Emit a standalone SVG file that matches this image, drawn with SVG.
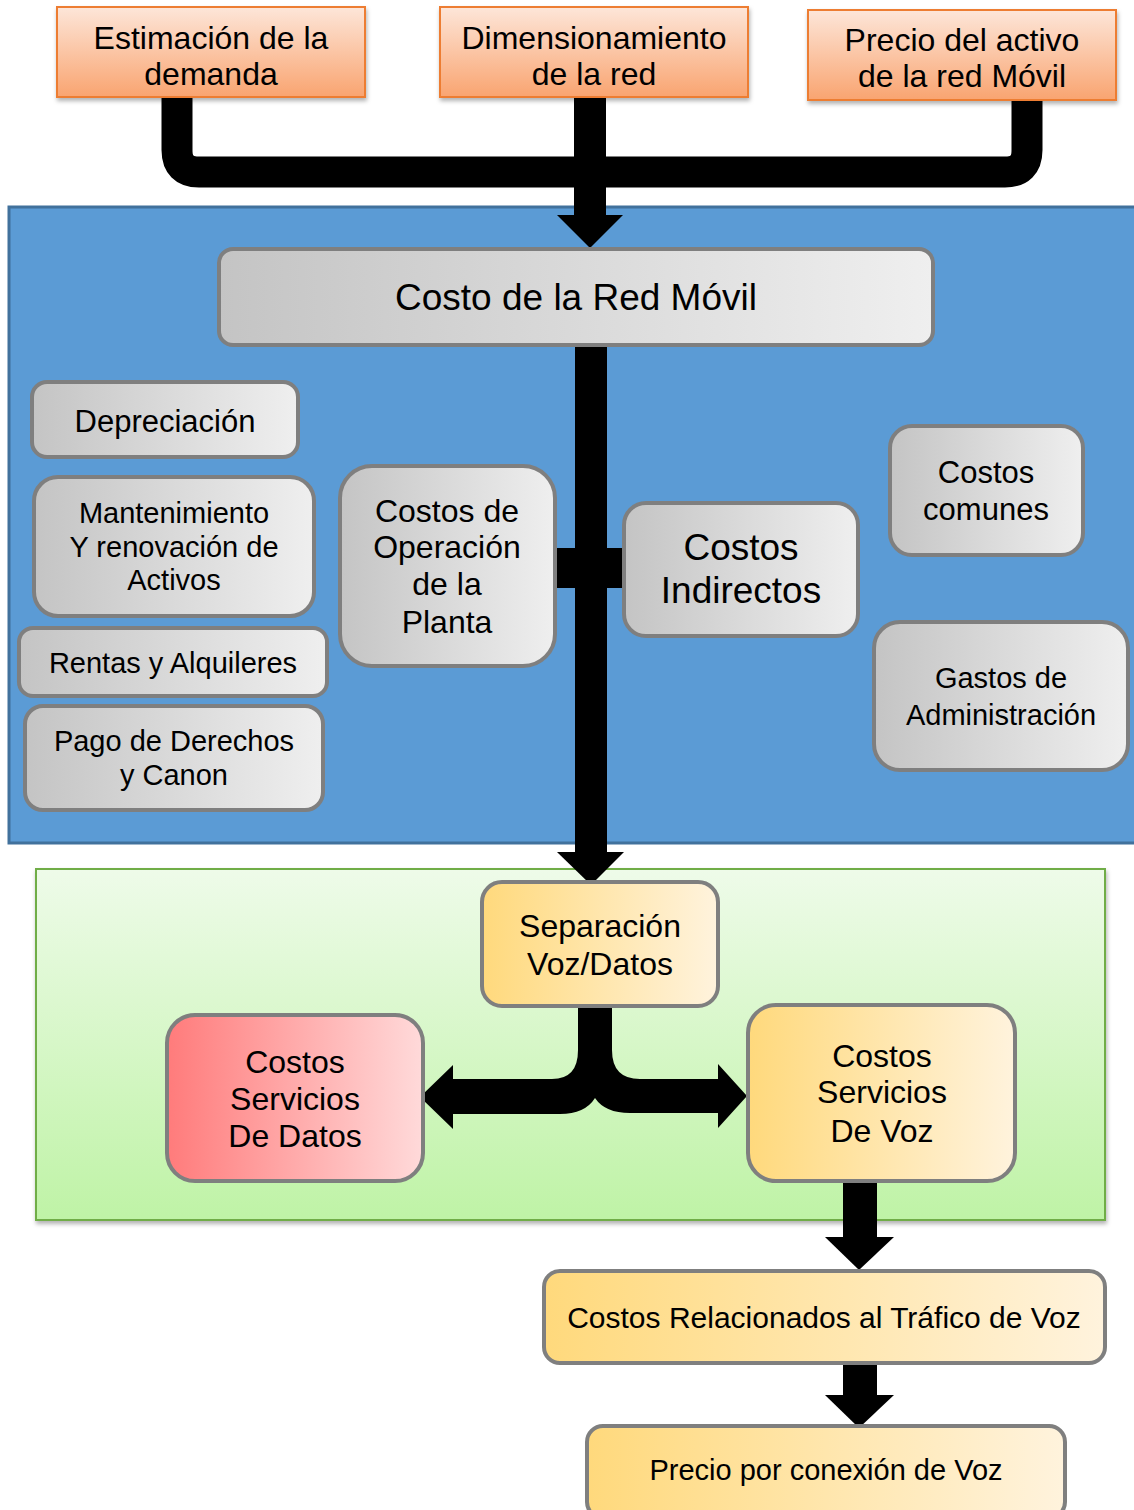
<svg xmlns="http://www.w3.org/2000/svg" width="1134" height="1510" viewBox="0 0 1134 1510">
<defs>
<linearGradient id="gOrange" x1="0" y1="0" x2="0" y2="1"><stop offset="0" stop-color="#fde6d9"/><stop offset="1" stop-color="#f9a470"/></linearGradient>
<linearGradient id="gGray" x1="0" y1="0" x2="1" y2="0"><stop offset="0" stop-color="#c4c4c4"/><stop offset="1" stop-color="#efefef"/></linearGradient>
<linearGradient id="gYellow" x1="0" y1="0" x2="1" y2="0"><stop offset="0" stop-color="#ffd97c"/><stop offset="1" stop-color="#fff3dd"/></linearGradient>
<linearGradient id="gRed" x1="0" y1="0" x2="1" y2="0"><stop offset="0" stop-color="#ff7b7b"/><stop offset="1" stop-color="#ffdada"/></linearGradient>
<linearGradient id="gGreen" x1="0" y1="0" x2="0" y2="1"><stop offset="0" stop-color="#eefbe9"/><stop offset="1" stop-color="#bff3a6"/></linearGradient>
<filter id="sh" x="-10%" y="-10%" width="120%" height="130%"><feDropShadow dx="1" dy="3" stdDeviation="2" flood-color="#000" flood-opacity="0.3"/></filter>
</defs>
<style>
text{font-family:"Liberation Sans",Arial,sans-serif;fill:#000;text-anchor:middle}
.t32{font-size:32px}.t29{font-size:29px}.t37{font-size:37px}.t31{font-size:31px}.t30{font-size:30px}
.orange{fill:url(#gOrange);stroke:#ed7d31;stroke-width:2}
.gray{fill:url(#gGray);stroke:#7f7f7f;stroke-width:4}
.yellow{fill:url(#gYellow);stroke:#7f7f7f;stroke-width:4}
.red{fill:url(#gRed);stroke:#7f7f7f;stroke-width:4}
.blk{fill:#000}
</style>

<g id="panel-blue"><rect x="9" y="207" width="1135" height="636" fill="#5b9bd5" stroke="#41719c" stroke-width="3"/></g>
<g id="panel-green"><rect x="36" y="869" width="1069" height="351" fill="url(#gGreen)" stroke="#70ad47" stroke-width="2" filter="url(#sh)"/></g>

<g id="connectors">
<path d="M177,97 V150 Q177,172 199,172 H1005 Q1027,172 1027,150 V100" fill="none" stroke="#000" stroke-width="31"/>
<rect class="blk" x="574" y="97" width="32" height="120"/>
<polygon class="blk" points="557,215 623,215 590,248"/>
<rect class="blk" x="575" y="343" width="32" height="511"/>
<polygon class="blk" points="557,852 624,852 591,885"/>
<rect class="blk" x="553" y="548" width="74" height="40"/>
<path class="blk" d="M578,1004 V1050 Q578,1079 552,1079 H453 V1065 L420,1097 L453,1129 V1114 H560 Q585,1114 595,1098 Q605,1113 630,1113 H718 V1128 L747,1096 L718,1064 V1079 H640 Q612,1079 612,1050 V1004 Z"/>
<rect class="blk" x="843" y="1180" width="34" height="58"/>
<polygon class="blk" points="825,1237 894,1237 859,1270"/>
<rect class="blk" x="843" y="1362" width="34" height="34"/>
<polygon class="blk" points="825,1395 894,1395 859,1428"/>
</g>

<g id="n-estimacion"><rect class="orange" x="57" y="7" width="308" height="90" filter="url(#sh)"/><text class="t32" x="211" y="49">Estimación de la</text><text class="t32" x="211" y="85">demanda</text></g>
<g id="n-dimensionamiento"><rect class="orange" x="440" y="7" width="308" height="90" filter="url(#sh)"/><text class="t32" x="594" y="49">Dimensionamiento</text><text class="t32" x="594" y="85">de la red</text></g>
<g id="n-precio-activo"><rect class="orange" x="808" y="10" width="308" height="90" filter="url(#sh)"/><text class="t32" x="962" y="51">Precio del activo</text><text class="t32" x="962" y="87">de la red Móvil</text></g>

<g id="n-costo-red"><rect class="gray" x="219" y="249" width="714" height="96" rx="14"/><text class="t37" x="576" y="310">Costo de la Red Móvil</text></g>
<g id="n-depreciacion"><rect class="gray" x="32" y="382" width="266" height="75" rx="15"/><text class="t31" x="165" y="432">Depreciación</text></g>
<g id="n-mantenimiento"><rect class="gray" x="34" y="477" width="280" height="139" rx="24"/><text class="t29" x="174" y="523">Mantenimiento</text><text class="t29" x="174" y="557">Y renovación de</text><text class="t29" x="174" y="590">Activos</text></g>
<g id="n-rentas"><rect class="gray" x="19" y="628" width="308" height="68" rx="14"/><text class="t29" x="173" y="673">Rentas y Alquileres</text></g>
<g id="n-pago"><rect class="gray" x="25" y="706" width="298" height="104" rx="18"/><text class="t29" x="174" y="751">Pago de Derechos</text><text class="t29" x="174" y="785">y Canon</text></g>
<g id="n-operacion"><rect class="gray" x="340" y="466" width="215" height="200" rx="32"/><text class="t32" x="447" y="522">Costos de</text><text class="t32" x="447" y="558">Operación</text><text class="t32" x="447" y="595">de la</text><text class="t32" x="447" y="633">Planta</text></g>
<g id="n-indirectos"><rect class="gray" x="624" y="503" width="234" height="133" rx="22"/><text class="t37" x="741" y="560">Costos</text><text class="t37" x="741" y="603">Indirectos</text></g>
<g id="n-comunes"><rect class="gray" x="890" y="426" width="193" height="129" rx="22"/><text class="t31" x="986" y="483">Costos</text><text class="t31" x="986" y="520">comunes</text></g>
<g id="n-gastos"><rect class="gray" x="874" y="622" width="254" height="148" rx="26"/><text class="t29" x="1001" y="688">Gastos de</text><text class="t29" x="1001" y="725">Administración</text></g>

<g id="n-separacion"><rect class="yellow" x="482" y="882" width="236" height="124" rx="20"/><text class="t32" x="600" y="937">Separación</text><text class="t32" x="600" y="975">Voz/Datos</text></g>
<g id="n-datos"><rect class="red" x="167" y="1015" width="256" height="166" rx="28"/><text class="t32" x="295" y="1073">Costos</text><text class="t32" x="295" y="1110">Servicios</text><text class="t32" x="295" y="1147">De Datos</text></g>
<g id="n-voz"><rect class="yellow" x="748" y="1005" width="267" height="176" rx="28"/><text class="t32" x="882" y="1067">Costos</text><text class="t32" x="882" y="1103">Servicios</text><text class="t32" x="882" y="1142">De Voz</text></g>
<g id="n-relacionados"><rect class="yellow" x="544" y="1271" width="561" height="92" rx="16"/><text class="t30" x="824" y="1328">Costos Relacionados al Tráfico de Voz</text></g>
<g id="n-precio-voz"><rect class="yellow" x="587" y="1426" width="478" height="92" rx="16"/><text class="t29" x="826" y="1480">Precio por conexión de Voz</text></g>
</svg>
